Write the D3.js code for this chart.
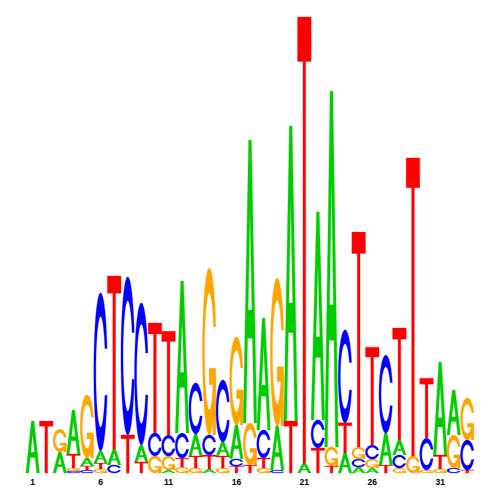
<!DOCTYPE html>
<html><head><meta charset="utf-8">
<script src="https://cdn.jsdelivr.net/npm/d3@7/dist/d3.min.js"></script>
<style>html,body{margin:0;padding:0;background:#fff}</style>
</head><body>
<svg id="chart" width="500" height="500"></svg>
<script>
// ---- data (information content in bits per nucleotide, per position) ----
const positions = d3.range(1, 34);
const bitsA = [0.228,0,0.092,0.193,0.035,0.053,0.070,0,0.075,0,0.013,0.667,0.096,0.018,0.061,0.149,1.241,0.491,0.193,1.294,0.044,0.912,1.561,0.088,0.026,0.022,0.140,0.066,0,0,0.408,0.197,0];
const bitsC = [0,0,0,0.009,0.013,0.693,0.035,0.693,0.623,0.101,0.092,0.110,0.224,0.088,0.272,0.032,0,0.123,0.013,0,0,0.123,0,0.408,0.035,0.061,0.342,0.057,0,0.140,0,0.022,0.132];
const bitsG = [0,0,0.100,0.013,0.276,0.018,0,0,0,0.075,0.061,0.026,0.022,0.732,0.022,0.386,0.184,0.022,0.649,0,0,0,0.083,0,0.053,0.039,0,0.022,0.075,0.013,0.018,0.145,0.184];
const bitsT = [0,0.228,0,0.061,0.018,0.026,0.759,0.167,0.048,0.482,0.456,0.039,0.053,0.061,0.053,0.030,0.035,0.044,0,0.228,1.956,0.110,0.031,0.132,0.943,0.430,0.035,0.491,1.307,0.263,0.061,0,0.013];
const tickLabels = [1,6,11,16,21,26,31];
const letterColors = {A:"#00cc00", C:"#0000ff", G:"#ffa500", T:"#ff0000"};

const bits = {A:bitsA, C:bitsC, G:bitsG, T:bitsT};

const svg = d3.select("#chart");
const x = d3.scaleBand().domain(positions).range([25.9, 474.1]).padding(0);
const y = d3.scaleLinear().domain([0, 2]).range([473, 17]);

// ---- glyph outlines in unit square (x to the right, y upward) ----
function seq(a, b, n){ const out=[]; for(let i=0;i<n;i++) out.push(a+(b-a)*i/(n-1)); return out; }
function ringC(){
  const a1 = seq(0.3+Math.PI/2, Math.PI, 100), a2 = seq(Math.PI, 1.5*Math.PI, 100);
  const xl1=a1.map(a=>0.5+0.5*Math.sin(a)), yl1=a1.map(a=>0.5+0.5*Math.cos(a));
  const xl2=a2.map(a=>0.5+0.5*Math.sin(a)), yl2=a2.map(a=>0.5+0.5*Math.cos(a));
  const xl=xl1.concat(xl2), yl=yl1.concat(yl2);
  const xo=xl.concat(xl.slice().reverse()), yo=yl.concat(yl.slice().reverse().map(v=>1-v));
  const maxY = Math.max(...yl1);
  let xi1=a1.map(a=>0.5+0.35*Math.sin(a)), yi1=a1.map(a=>0.5+0.35*Math.cos(a));
  const keep = yi1.map(v=>v<=maxY);
  xi1 = xi1.filter((_,i)=>keep[i]); yi1 = yi1.filter((_,i)=>keep[i]);
  yi1[0] = maxY;
  const xi2=a2.map(a=>0.5+0.35*Math.sin(a)), yi2=a2.map(a=>0.5+0.35*Math.cos(a));
  const xi=xi1.concat(xi2), yi=yi1.concat(yi2);
  const x1=xi.concat(xi.slice().reverse()), y1=yi.concat(yi.slice().reverse().map(v=>1-v));
  const X = xo.concat(x1.slice().reverse()), Y = yo.concat(y1.slice().reverse());
  return {pts: X.map((v,i)=>[v,Y[i]]), r1: Math.max(...xl1)};
}
const cShape = ringC();
const shapes = {
  A: [{pts:[[0,0],[0.4,1],[0.6,1],[1,0],[0.8,0],[0.68,0.3],[0.32,0.3],[0.2,0]], hole:[[0.36,0.4],[0.5,0.75],[0.64,0.4]]}],
  C: [{pts: cShape.pts}],
  G: [{pts: cShape.pts}, {pts: (()=>{const r1=cShape.r1,h1=0.4; return [[r1,h1],[0.5,h1],[0.5,h1-0.1],[r1-0.2,h1-0.1],[r1-0.2,0],[r1,0]];})()}],
  T: [{pts:[[0,1],[1,1],[1,0.9],[0.6,0.9],[0.6,0],[0.4,0],[0.4,0.9],[0,0.9]]}]
};
function polyPath(pts, x0, yTop, w, h){
  return "M" + pts.map(p=>(x0+p[0]*w).toFixed(2)+","+(yTop+(1-p[1])*h).toFixed(2)).join("L") + "Z";
}

// ---- stacks ----
const stacks = positions.map((p,i)=>{
  const items = ["A","C","G","T"].map(L=>({L, v:bits[L][i]})).filter(d=>d.v>0).sort((a,b)=>a.v-b.v);
  let cum=0;
  return items.map(d=>{ const o={pos:p, L:d.L, y0:cum, y1:cum+d.v}; cum+=d.v; return o; });
});

const cols = svg.append("g").selectAll("g").data(stacks).join("g");
cols.selectAll("g").data(d=>d).join("g").each(function(d){
  const g = d3.select(this);
  const x0 = x(d.pos), w = x.bandwidth();
  const yTop = y(d.y1), h = y(d.y0) - y(d.y1);
  shapes[d.L].forEach(s=>{
    let dstr = polyPath(s.pts, x0, yTop, w, h);
    if (s.hole) dstr += polyPath(s.hole, x0, yTop, w, h);
    g.append("path").attr("d", dstr).attr("fill", letterColors[d.L]).attr("fill-rule","evenodd")
      .attr("stroke", letterColors[d.L]).attr("stroke-width", 0.3);
  });
});

// ---- position labels ----
svg.append("g").selectAll("text").data(tickLabels).join("text")
  .attr("x", d=>x(d)+x.bandwidth()/2).attr("y", 485)
  .attr("text-anchor","middle")
  .attr("font-family","'Liberation Sans', Arial, Helvetica, sans-serif")
  .attr("font-weight","bold").attr("font-size","8.5px")
  .text(d=>d);
</script>
</body></html>
